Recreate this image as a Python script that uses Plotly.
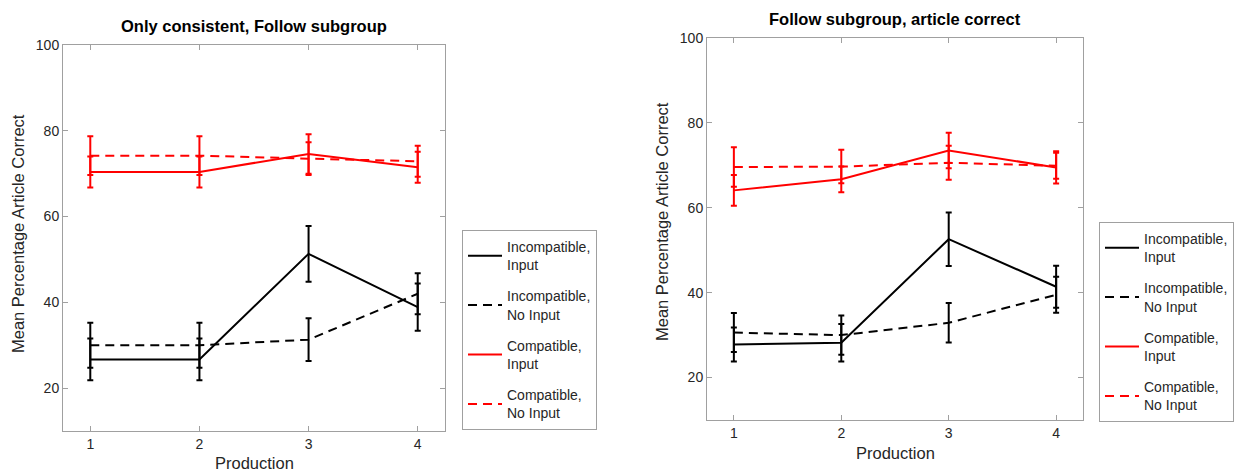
import plotly.graph_objects as go

# ---------------- data ----------------
productions = [1, 2, 3, 4]
tick_labels = ["1", "2", "3", "4"]
series_names = ["Incompatible,<br>Input", "Incompatible,<br>No Input",
                "Compatible,<br>Input", "Compatible,<br>No Input"]

# Left panel: Only consistent, Follow subgroup
left_inc_input = [26.7, 26.7, 51.3, 38.9]
left_inc_input_err = [4.85, 4.85, 6.5, 5.5]
left_inc_noinput = [30.0, 30.0, 31.3, 42.0]
left_inc_noinput_err = [5.25, 5.25, 5.0, 4.8]
left_com_input = [70.4, 70.4, 74.6, 71.5]
left_com_input_err = [3.6, 3.6, 4.6, 3.6]
left_com_noinput = [74.2, 74.2, 73.5, 72.9]
left_com_noinput_err = [4.5, 4.5, 3.8, 3.6]

# Right panel: Follow subgroup, article correct
right_inc_input = [27.8, 28.2, 52.6, 41.4]
right_inc_input_err = [4.0, 4.4, 6.3, 4.95]
right_inc_noinput = [30.6, 30.0, 32.9, 39.5]
right_inc_noinput_err = [4.6, 4.6, 4.65, 4.25]
right_com_input = [64.1, 66.7, 73.5, 69.5]
right_com_input_err = [3.65, 3.05, 4.2, 3.8]
right_com_noinput = [69.6, 69.7, 70.6, 69.9]
right_com_noinput_err = [4.65, 3.95, 4.0, 3.05]

y_ticks = [20, 40, 60, 80, 100]

# ---------------- styling ----------------
W, H = 1235, 472
FONT = "Liberation Sans, Arial, Helvetica, sans-serif"
colors = ["#000000", "#000000", "#ff0000", "#ff0000"]
dashes = ["solid", "9px,6px", "solid", "9px,6px"]

fig = go.Figure()

panels = [
    ("x", "y", "legend",
     [left_inc_input, left_inc_noinput, left_com_input, left_com_noinput],
     [left_inc_input_err, left_inc_noinput_err, left_com_input_err, left_com_noinput_err]),
    ("x2", "y2", "legend2",
     [right_inc_input, right_inc_noinput, right_com_input, right_com_noinput],
     [right_inc_input_err, right_inc_noinput_err, right_com_input_err, right_com_noinput_err]),
]

for xa, ya, leg, vals, errs in panels:
    for i in range(4):
        fig.add_trace(go.Scatter(
            x=productions, y=vals[i], mode="lines",
            name=series_names[i], xaxis=xa, yaxis=ya, legend=leg,
            legendgroup=f"{leg}_{i}",
            line=dict(color=colors[i], width=2, dash=dashes[i]),
            error_y=dict(type="data", array=errs[i], visible=True,
                         thickness=2, width=3, color=colors[i]),
        ))

def px_x(p):
    return p / W

def px_y(p):
    return 1 - p / H

axis_common = dict(
    showline=True, linecolor="#a0a0a0", linewidth=1, mirror="allticks",
    ticks="inside", ticklen=5, tickcolor="#a0a0a0", tickwidth=1,
    showgrid=False, zeroline=False,
    tickfont=dict(family=FONT, size=14, color="#262626"),
    automargin=False,
)

legend_common = dict(
    xanchor="left", yanchor="top",
    bordercolor="#a0a0a0", borderwidth=1, bgcolor="white",
    font=dict(family=FONT, size=14, color="#262626"),
    tracegroupgap=10, itemwidth=34,
)

fig.update_layout(
    width=W, height=H,
    margin=dict(l=0, r=0, t=0, b=0),
    paper_bgcolor="white", plot_bgcolor="white",
    font=dict(family=FONT, size=14, color="#262626"),
    xaxis=dict(axis_common, domain=[px_x(63), px_x(445)], range=[0.75, 4.25],
               tickvals=productions, ticktext=tick_labels, anchor="y"),
    yaxis=dict(axis_common, domain=[px_y(431), px_y(45)], range=[10, 100],
               tickvals=y_ticks, anchor="x"),
    xaxis2=dict(axis_common, domain=[px_x(707), px_x(1083)], range=[0.75, 4.25],
                tickvals=productions, ticktext=tick_labels, anchor="y2"),
    yaxis2=dict(axis_common, domain=[px_y(420), px_y(38)], range=[10, 100],
                tickvals=y_ticks, anchor="x2"),
    legend=dict(legend_common, x=px_x(462), y=px_y(230)),
    legend2=dict(legend_common, x=px_x(1099), y=px_y(222)),
    showlegend=True,
)

annotations = [
    dict(text="<b>Only consistent, Follow subgroup</b>", x=px_x(254), y=px_y(26),
         font=dict(size=16.5, color="#000000")),
    dict(text="<b>Follow subgroup, article correct</b>", x=px_x(895), y=px_y(19),
         font=dict(size=16.5, color="#000000")),
    dict(text="Production", x=px_x(254), y=px_y(463), font=dict(size=16.5)),
    dict(text="Production", x=px_x(895), y=px_y(453), font=dict(size=16.5)),
    dict(text="Mean Percentage Article Correct", x=px_x(18), y=px_y(234),
         textangle=-90, font=dict(size=16.5)),
    dict(text="Mean Percentage Article Correct", x=px_x(662), y=px_y(222),
         textangle=-90, font=dict(size=16.5)),
]
for a in annotations:
    a.update(xref="paper", yref="paper", showarrow=False,
             xanchor="center", yanchor="middle")
    a["font"].setdefault("family", FONT)
    a["font"].setdefault("color", "#262626")
fig.update_layout(annotations=annotations)

fig.write_html("out.html",
               config={"displayModeBar": False},
               post_script="document.body.style.margin='0px';document.body.style.padding='0px';")
